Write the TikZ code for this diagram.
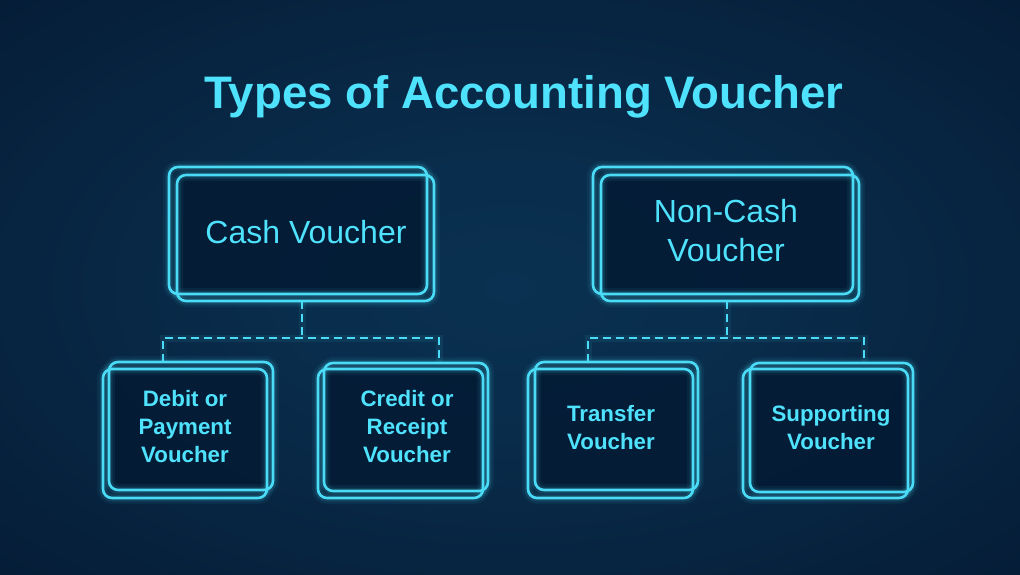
\documentclass[tikz,border=0pt]{standalone}
\usepackage{fontspec}
\setmainfont{Liberation Sans}
\definecolor{lc}{HTML}{4ADCF6}
\definecolor{tc}{HTML}{4FE2FD}
\definecolor{bgin}{HTML}{0A3151}
\definecolor{bgout}{HTML}{03132A}
\definecolor{boxfill}{HTML}{041A33}
\pgfdeclarelayer{bgzero}
\pgfdeclarelayer{bgone}
\pgfsetlayers{bgzero,bgone,main}
\pgfdeclareradialshading{bgshade}{\pgfpoint{0bp}{0bp}}{color(0bp)=(bgin); color(12bp)=(bgin!85!bgout); color(50bp)=(bgout)}
\begin{document}
\begin{tikzpicture}[x=1pt,y=-1pt,
  outline/.style={draw=lc, line width=2.6pt, rounded corners=9pt, inner sep=0pt, outer sep=0pt,
     preaction={draw=lc, line width=12pt, draw opacity=0.06},
     preaction={draw=lc, line width=7pt, draw opacity=0.12}},
  dashline/.style={draw=lc, line width=2.6pt, dash pattern=on 8pt off 5pt,
     preaction={draw=lc, line width=7pt, draw opacity=0.08, solid}},
  titletxt/.style={text=tc, font=\bfseries\fontsize{45.6}{54}\selectfont, inner sep=0pt},
  bigtxt/.style={text=tc, font=\fontsize{32}{39}\selectfont, align=center, inner sep=0pt},
  smalltxt/.style={text=tc, font=\bfseries\fontsize{22.3}{28}\selectfont, align=center, inner sep=0pt}]
\useasboundingbox (0,0) rectangle (1020,574);
\begin{pgfonlayer}{bgzero}
\shade[shading=bgshade] (0,0) rectangle (1020,574);
\end{pgfonlayer}

\node[titletxt, anchor=base] (title) at (524,108) {Types of Accounting Voucher};

% parent boxes
\node[outline, minimum width=258pt, minimum height=127pt] (cashA) at (298,230.5) {};
\node[outline, minimum width=257pt, minimum height=126pt] (cashB) at (305.5,238) {};
\node[bigtxt, anchor=base] (cashT) at (306,243) {Cash Voucher};

\node[outline, minimum width=260pt, minimum height=127pt] (ncA) at (723,230.5) {};
\node[outline, minimum width=258pt, minimum height=126pt] (ncB) at (730,238) {};
\node[bigtxt] (ncT) at (726,231) {Non-Cash\\Voucher};

% child boxes
\node[outline, minimum width=164pt, minimum height=128pt] (debA) at (191,426) {};
\node[outline, minimum width=164pt, minimum height=129pt] (debB) at (185,433.5) {};
\node[smalltxt] (debT) at (185,427) {Debit or\\Payment\\Voucher};

\node[outline, minimum width=164pt, minimum height=128pt] (creA) at (406,427) {};
\node[outline, minimum width=165pt, minimum height=129pt] (creB) at (400.5,433.5) {};
\node[smalltxt] (creT) at (407,427) {Credit or\\Receipt\\Voucher};

\node[outline, minimum width=163pt, minimum height=128pt] (traA) at (616.5,426) {};
\node[outline, minimum width=165pt, minimum height=129pt] (traB) at (610.5,433.5) {};
\node[smalltxt] (traT) at (611,428) {Transfer\\Voucher};

\node[outline, minimum width=163pt, minimum height=129pt] (supA) at (831.5,427.5) {};
\node[outline, minimum width=165pt, minimum height=129pt] (supB) at (825.5,433.5) {};
\node[smalltxt] (supT) at (831,428) {Supporting\\Voucher};

% box fills
\begin{pgfonlayer}{bgone}
\foreach \n in {cashA,cashB,ncA,ncB,debA,debB,creA,creB,traA,traB,supA,supB}
  \fill[boxfill, fill opacity=0.6, rounded corners=9pt] (\n.north west) rectangle (\n.south east);
\end{pgfonlayer}

% connectors
\coordinate (j1) at (302,338);
\coordinate (l1) at (163,338);
\coordinate (r1) at (439,338);
\draw[dashline] (j1 |- cashB.south) -- (j1);
\draw[dashline] (l1 |- debA.north) -- (l1) -- (r1) -- (r1 |- creA.north);

\coordinate (j2) at (727,338);
\coordinate (l2) at (588,338);
\coordinate (r2) at (864,338);
\draw[dashline] (j2 |- ncB.south) -- (j2);
\draw[dashline] (l2 |- traA.north) -- (l2) -- (r2) -- (r2 |- supA.north);
\end{tikzpicture}
\end{document}
